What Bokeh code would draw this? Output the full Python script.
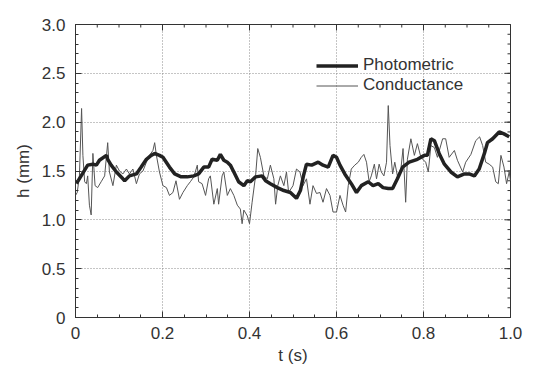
from bokeh.plotting import figure
from bokeh.models import Range1d, FixedTicker, Legend, LegendItem
from bokeh.embed import file_html
from bokeh.resources import INLINE
import math

# ---- data ----
photo_t = [0.002, 0.013, 0.028, 0.040, 0.048, 0.055, 0.071, 0.074, 0.082, 0.094,
           0.109, 0.113, 0.124, 0.140, 0.151, 0.163, 0.174, 0.182, 0.193, 0.201,
           0.216, 0.228, 0.243, 0.257, 0.272, 0.283, 0.295, 0.306, 0.314, 0.326,
           0.333, 0.341, 0.349, 0.356, 0.364, 0.375, 0.387, 0.395, 0.402, 0.414,
           0.429, 0.437, 0.448, 0.464, 0.479, 0.494, 0.508, 0.517, 0.524, 0.531,
           0.543, 0.558, 0.569, 0.581, 0.592, 0.600, 0.608, 0.619, 0.634, 0.646,
           0.657, 0.673, 0.684, 0.696, 0.707, 0.719, 0.729, 0.740, 0.752, 0.767,
           0.786, 0.802, 0.809, 0.817, 0.825, 0.836, 0.848, 0.863, 0.878, 0.894,
           0.905, 0.917, 0.928, 0.940, 0.947, 0.959, 0.974, 0.985, 0.997]
photo_h = [1.37, 1.45, 1.56, 1.57, 1.56, 1.61, 1.66, 1.62, 1.56, 1.49,
           1.42, 1.40, 1.45, 1.47, 1.54, 1.62, 1.66, 1.68, 1.66, 1.64,
           1.54, 1.47, 1.44, 1.44, 1.45, 1.47, 1.54, 1.54, 1.62, 1.61,
           1.67, 1.61, 1.59, 1.56, 1.49, 1.39, 1.35, 1.40, 1.39, 1.44,
           1.45, 1.40, 1.37, 1.33, 1.30, 1.28, 1.22, 1.30, 1.45, 1.57,
           1.56, 1.59, 1.56, 1.54, 1.66, 1.64, 1.56, 1.47, 1.37, 1.28,
           1.35, 1.39, 1.35, 1.37, 1.33, 1.32, 1.32, 1.42, 1.54, 1.59,
           1.62, 1.66, 1.66, 1.83, 1.81, 1.68, 1.57, 1.49, 1.44, 1.47,
           1.47, 1.45, 1.52, 1.68, 1.79, 1.83, 1.90, 1.88, 1.85]

cond_t = [0.000, 0.004, 0.009, 0.014, 0.017, 0.021, 0.025, 0.028, 0.032, 0.036,
          0.040, 0.045, 0.051, 0.059, 0.067, 0.074, 0.078, 0.086, 0.094, 0.101,
          0.109, 0.117, 0.124, 0.132, 0.140, 0.147, 0.155, 0.163, 0.170, 0.178,
          0.182, 0.186, 0.193, 0.201, 0.209, 0.216, 0.224, 0.231, 0.239, 0.247,
          0.257, 0.264, 0.272, 0.280, 0.283, 0.291, 0.299, 0.306, 0.310, 0.318,
          0.326, 0.329, 0.337, 0.341, 0.349, 0.356, 0.364, 0.372, 0.379, 0.383,
          0.387, 0.395, 0.400, 0.406, 0.414, 0.419, 0.425, 0.433, 0.441, 0.448,
          0.456, 0.460, 0.465, 0.471, 0.479, 0.485, 0.490, 0.500, 0.508, 0.516,
          0.523, 0.531, 0.539, 0.546, 0.554, 0.562, 0.569, 0.577, 0.585, 0.592,
          0.600, 0.608, 0.615, 0.621, 0.627, 0.634, 0.642, 0.650, 0.657, 0.663,
          0.669, 0.675, 0.680, 0.687, 0.692, 0.698, 0.703, 0.709, 0.715, 0.719,
          0.723, 0.729, 0.734, 0.740, 0.748, 0.753, 0.759, 0.763, 0.771, 0.779,
          0.786, 0.794, 0.805, 0.811, 0.817, 0.825, 0.832, 0.844, 0.851, 0.859,
          0.871, 0.878, 0.890, 0.897, 0.909, 0.920, 0.929, 0.936, 0.943, 0.951,
          0.959, 0.966, 0.972, 0.978, 0.985, 0.991, 0.997, 1.000]
cond_h = [1.25, 1.28, 1.45, 2.14, 1.66, 1.39, 1.37, 1.45, 1.15, 1.05,
          1.68, 1.35, 1.33, 1.39, 1.45, 1.79, 1.49, 1.35, 1.56, 1.50,
          1.47, 1.52, 1.47, 1.52, 1.37, 1.47, 1.50, 1.59, 1.66, 1.71,
          1.79, 1.66, 1.49, 1.35, 1.33, 1.25, 1.28, 1.40, 1.21, 1.28,
          1.35, 1.39, 1.44, 1.56, 1.39, 1.37, 1.25, 1.42, 1.45, 1.16,
          1.32, 1.16, 1.45, 1.49, 1.25, 1.32, 1.25, 1.15, 1.11, 0.96,
          1.10, 1.04, 0.96, 1.18, 1.45, 1.73, 1.64, 1.45, 1.42, 1.56,
          1.42, 1.16, 1.35, 1.45, 1.35, 1.49, 1.28, 1.35, 1.52, 1.49,
          1.35, 1.42, 1.16, 1.35, 1.27, 1.28, 1.18, 1.32, 1.25, 1.08,
          1.08, 1.25, 1.15, 1.08, 1.35, 1.52, 1.56, 1.59, 1.64, 1.67,
          1.59, 1.39, 1.45, 1.57, 1.42, 1.57, 1.49, 1.45, 1.59, 2.17,
          1.76, 1.47, 1.59, 1.45, 1.52, 1.73, 1.18, 1.62, 1.83, 1.66,
          1.78, 1.64, 1.59, 1.49, 1.76, 1.74, 1.64, 1.83, 1.83, 1.64,
          1.71, 1.61, 1.49, 1.59, 1.67, 1.81, 1.85, 1.76, 1.59, 1.57,
          1.54, 1.39, 1.37, 1.66, 1.54, 1.37, 1.49, 1.40]

x_ticks = [0, 0.2, 0.4, 0.6, 0.8, 1.0]
x_tick_labels = ["0", "0.2", "0.4", "0.6", "0.8", "1.0"]
y_ticks = [0, 0.5, 1.0, 1.5, 2.0, 2.5, 3.0]
y_tick_labels = ["0", "0.5", "1.0", "1.5", "2.0", "2.5", "3.0"]
x_minor = [round(i * 0.05, 2) for i in range(21)]
y_minor = [round(i * 0.1, 1) for i in range(31)]

FONT = "Liberation Sans"
TXT = "#333333"

p = figure(width=536, height=372, output_backend="svg", toolbar_location=None,
           x_range=Range1d(0, 1.0), y_range=Range1d(0, 3.0),
           min_border_left=75, min_border_right=26, min_border_top=24,
           min_border_bottom=55, x_axis_label="t (s)", y_axis_label="h (mm)")
p.outline_line_color = TXT
p.outline_line_width = 1
p.background_fill_color = "white"
p.border_fill_color = "white"

xt = FixedTicker(ticks=x_ticks, minor_ticks=x_minor)
yt = FixedTicker(ticks=y_ticks, minor_ticks=y_minor)

p.xaxis.ticker = xt
p.yaxis.ticker = yt
p.xaxis.major_label_overrides = {t: l for t, l in zip(x_ticks, x_tick_labels)}
p.yaxis.major_label_overrides = {t: l for t, l in zip(y_ticks, y_tick_labels)}

for ax in [p.xaxis[0], p.yaxis[0]]:
    ax.major_tick_in = 6
    ax.major_tick_out = 0
    ax.minor_tick_in = 3
    ax.minor_tick_out = 0
    ax.axis_line_color = TXT
    ax.major_tick_line_color = TXT
    ax.minor_tick_line_color = TXT
    ax.major_label_text_font = FONT
    ax.major_label_text_font_size = "17px"
    ax.major_label_text_color = TXT
    ax.axis_label_text_font = FONT
    ax.axis_label_text_font_size = "17px"
    ax.axis_label_text_font_style = "normal"
    ax.axis_label_text_color = TXT

p.xaxis.major_label_standoff = 9
p.yaxis.major_label_standoff = 10
p.xaxis.axis_label_standoff = 4
p.yaxis.axis_label_standoff = 6

# mirrored tick marks on the right and top edges (clipped to the frame)
p.scatter([1.0] * len(y_minor), y_minor, marker="dash", size=6,
          line_color=TXT, line_width=1)
p.scatter([1.0] * len(y_ticks), y_ticks, marker="dash", size=12,
          line_color=TXT, line_width=1)
p.scatter(x_minor, [3.0] * len(x_minor), marker="dash", size=6, angle=math.pi / 2,
          line_color=TXT, line_width=1)
p.scatter(x_ticks, [3.0] * len(x_ticks), marker="dash", size=12, angle=math.pi / 2,
          line_color=TXT, line_width=1)

p.xgrid.ticker = xt
p.ygrid.ticker = yt
for g in [p.xgrid[0], p.ygrid[0]]:
    g.grid_line_color = "#8a8a8a"
    g.grid_line_dash = "1 2"
    g.grid_line_width = 1

r_cond = p.line(cond_t, cond_h, line_color="#555555", line_width=1)
r_photo = p.line(photo_t, photo_h, line_color="#222222", line_width=3.5)

legend = Legend(items=[LegendItem(label="Photometric", renderers=[r_photo]),
                       LegendItem(label="Conductance", renderers=[r_cond])],
                location=(241, 222), orientation="vertical",
                glyph_width=42, glyph_height=19, label_height=19,
                label_standoff=5, spacing=0, padding=0, margin=0,
                border_line_alpha=0, background_fill_alpha=0,
                label_text_font=FONT, label_text_font_size="17px",
                label_text_color=TXT)
p.add_layout(legend)

open("out.html", "w").write(file_html(p, INLINE))
